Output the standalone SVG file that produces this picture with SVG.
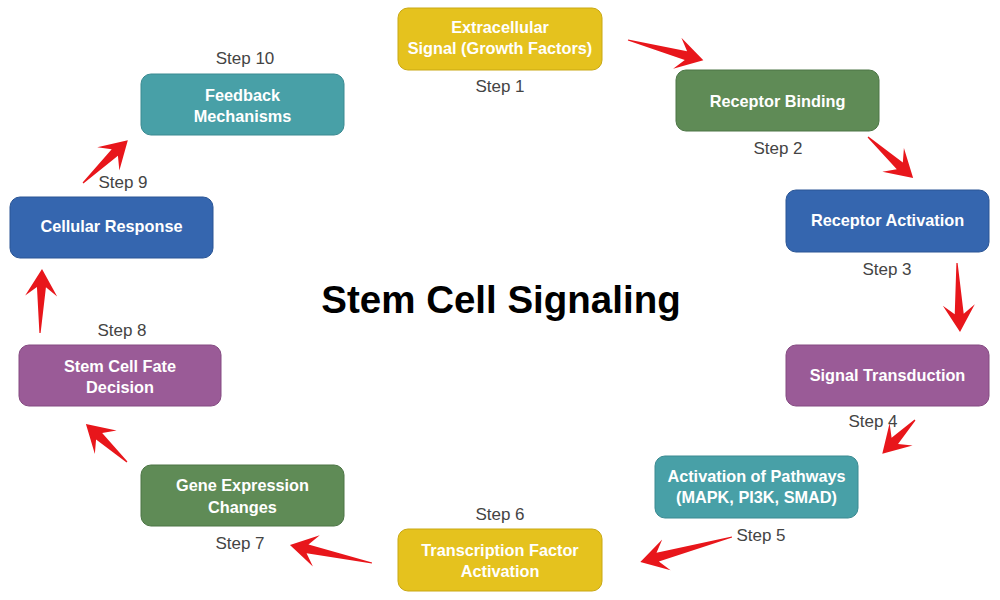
<svg xmlns="http://www.w3.org/2000/svg" width="1000" height="600" viewBox="0 0 1000 600">
<style>
.box{stroke-width:1;}
.yellow{fill:#E5C21E;stroke:#C9A812;}
.green{fill:#5F8B56;stroke:#4C7545;}
.blue{fill:#3566AF;stroke:#2A5595;}
.purple{fill:#9A5B97;stroke:#844A81;}
.teal{fill:#48A0A7;stroke:#3A8A91;}
.lbl{font-family:"Liberation Sans",Arial,sans-serif;font-weight:bold;font-size:16.3px;fill:#FFFFFF;text-anchor:middle;}
.step{font-family:"Liberation Sans",Arial,sans-serif;font-size:17px;fill:#444444;text-anchor:middle;}
.title{font-family:"Liberation Sans",Arial,sans-serif;font-weight:bold;font-size:38.5px;fill:#000000;text-anchor:middle;}
.arrow{fill:#E8161B;}
</style>
<rect width="1000" height="600" fill="#FFFFFF"/>
<text class="title" x="501" y="313">Stem Cell Signaling</text>
<g id="connectors">
<path class="arrow" transform="translate(628,40) rotate(15)" d="M0,-0.6 L60,-4.5 L51,-16 L78,0 L51,16 L60,4.5 L0,0.6 Z"/>
<path class="arrow" transform="translate(868,137) rotate(42.3)" d="M0,-0.6 L43,-4.5 L34,-16 L61,0 L34,16 L43,4.5 L0,0.6 Z"/>
<path class="arrow" transform="translate(957,263) rotate(87.5)" d="M0,-0.6 L51,-4.5 L42,-16 L69,0 L42,16 L51,4.5 L0,0.6 Z"/>
<path class="arrow" transform="translate(915,420) rotate(134.1)" d="M0,-0.6 L29,-4.5 L20,-16 L47,0 L20,16 L29,4.5 L0,0.6 Z"/>
<path class="arrow" transform="translate(732,537) rotate(164.8)" d="M0,-0.6 L77,-4.5 L68,-16 L95,0 L68,16 L77,4.5 L0,0.6 Z"/>
<path class="arrow" transform="translate(372,563) rotate(192.4)" d="M0,-0.6 L66,-4.5 L57,-16 L84,0 L57,16 L66,4.5 L0,0.6 Z"/>
<path class="arrow" transform="translate(127,462) rotate(222.8)" d="M0,-0.6 L38,-4.5 L29,-16 L56,0 L29,16 L38,4.5 L0,0.6 Z"/>
<path class="arrow" transform="translate(40,333) rotate(-88.2)" d="M0,-0.6 L46,-4.5 L37,-16 L64,0 L37,16 L46,4.5 L0,0.6 Z"/>
<path class="arrow" transform="translate(83,183) rotate(-43.7)" d="M0,-0.6 L44,-4.5 L35,-16 L62,0 L35,16 L44,4.5 L0,0.6 Z"/>
</g>
<g id="node1">
<rect class="box yellow" x="398" y="8" width="204" height="62" rx="10"/>
<text class="lbl" x="500" y="33">Extracellular</text>
<text class="lbl" x="500" y="54">Signal (Growth Factors)</text>
<text class="step" x="500" y="92">Step 1</text>
</g>
<g id="node2">
<rect class="box green" x="676" y="70" width="203" height="61" rx="10"/>
<text class="lbl" x="777.5" y="106.5">Receptor Binding</text>
<text class="step" x="778" y="154">Step 2</text>
</g>
<g id="node3">
<rect class="box blue" x="786" y="190" width="203" height="62" rx="10"/>
<text class="lbl" x="887.5" y="226">Receptor Activation</text>
<text class="step" x="887" y="275">Step 3</text>
</g>
<g id="node4">
<rect class="box purple" x="786" y="345" width="203" height="61" rx="10"/>
<text class="lbl" x="887.5" y="381">Signal Transduction</text>
<text class="step" x="873" y="427">Step 4</text>
</g>
<g id="node5">
<rect class="box teal" x="655" y="456" width="203" height="62" rx="10"/>
<text class="lbl" x="756.5" y="482">Activation of Pathways</text>
<text class="lbl" x="756.5" y="503">(MAPK, PI3K, SMAD)</text>
<text class="step" x="761" y="541">Step 5</text>
</g>
<g id="node6">
<rect class="box yellow" x="398" y="529" width="204" height="62" rx="10"/>
<text class="lbl" x="500" y="556">Transcription Factor</text>
<text class="lbl" x="500" y="577">Activation</text>
<text class="step" x="500" y="520">Step 6</text>
</g>
<g id="node7">
<rect class="box green" x="141" y="465" width="203" height="61" rx="10"/>
<text class="lbl" x="242.5" y="491">Gene Expression</text>
<text class="lbl" x="242.5" y="513">Changes</text>
<text class="step" x="240" y="549">Step 7</text>
</g>
<g id="node8">
<rect class="box purple" x="19" y="345" width="202" height="61" rx="10"/>
<text class="lbl" x="120" y="372">Stem Cell Fate</text>
<text class="lbl" x="120" y="393">Decision</text>
<text class="step" x="122" y="336">Step 8</text>
</g>
<g id="node9">
<rect class="box blue" x="10" y="197" width="203" height="61" rx="10"/>
<text class="lbl" x="111.5" y="232">Cellular Response</text>
<text class="step" x="123" y="188">Step 9</text>
</g>
<g id="node10">
<rect class="box teal" x="141" y="74" width="203" height="61" rx="10"/>
<text class="lbl" x="242.5" y="101">Feedback</text>
<text class="lbl" x="242.5" y="122">Mechanisms</text>
<text class="step" x="245" y="64">Step 10</text>
</g>
</svg>
